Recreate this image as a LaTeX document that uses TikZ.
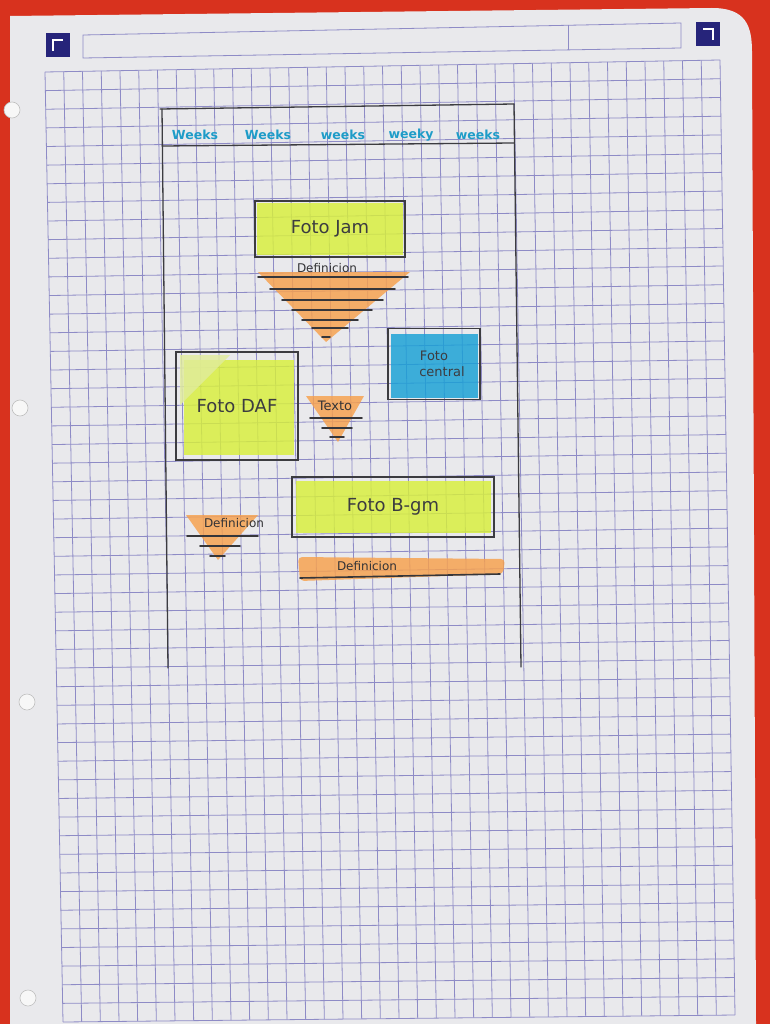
\documentclass[tikz,border=0pt]{standalone}
\usepackage{fontspec}
\setsansfont{DejaVu Sans}
\definecolor{binder}{HTML}{D8321E}
\definecolor{paper}{HTML}{E9E9EC}
\definecolor{gridc}{HTML}{8E8BC6}
\definecolor{navy}{HTML}{26247A}
\definecolor{pencil}{HTML}{3C3C40}
\definecolor{lime}{HTML}{D8F03A}
\definecolor{orng}{HTML}{F7A04C}
\definecolor{cyanink}{HTML}{1E9CC8}
\definecolor{skyfill}{HTML}{16A0D6}
\begin{document}
\begin{tikzpicture}[x=1pt,y=-1pt,
  gridline/.style={gridc,line width=0.8pt},
  pen/.style={pencil,line width=1.3pt,line cap=round},
  inkline/.style={pencil!90!black,line width=1.6pt,line cap=round},
  marker/.style={opacity=0.82},
  photo/.style={draw=pencil,line width=1.3pt,inner sep=0pt,font=\sffamily\fontsize{18}{18}\selectfont,text=pencil},
  navword/.style={font=\sffamily\bfseries\fontsize{12.5}{12.5}\selectfont,text=cyanink},
  hand/.style={font=\sffamily\fontsize{12}{12}\selectfont,text=pencil!85!black},
  hole/.style={fill=white!94!gray,draw=gray!50,line width=0.6pt}]
\useasboundingbox (0,0) rectangle (770,1024);

% binder background and the sheet
\fill[binder] (0,0) rectangle (770,1024);
\fill[paper] (10,16) -- (712,8) .. controls (746,8) and (752,26) .. (752,52) -- (756,1024) -- (10,1024) -- cycle;

% header strip and corner marks
\draw[gridc,line width=0.8pt] (83,35) -- (681,23) -- (681,48) -- (83,58) -- cycle;
\draw[gridc,line width=0.8pt] (568,25) -- (568,50);
\node[fill=navy,minimum size=24pt,inner sep=0pt] (markL) at (58,45) {};
\node[fill=navy,minimum size=24pt,inner sep=0pt] (markR) at (708,34) {};
\draw[white,line width=2pt] ([shift={(-5,6)}]markL.center) -- ([shift={(-5,-5)}]markL.center) -- ([shift={(5,-5)}]markL.center);
\draw[white,line width=2pt] ([shift={(-5,-5)}]markR.center) -- ([shift={(5,-5)}]markR.center) -- ([shift={(5,6)}]markR.center);

% squared ruling, slightly skewed
\def\TLx{45}\def\TLy{72}\def\TRx{720}\def\TRy{60}
\def\BLx{63}\def\BLy{1022}\def\BRx{735}\def\BRy{1015}
\foreach \i in {0,...,36}{
  \pgfmathsetmacro\u{\i/36}
  \pgfmathsetmacro\xa{(1-\u)*\TLx+\u*\TRx}
  \pgfmathsetmacro\ya{(1-\u)*\TLy+\u*\TRy}
  \pgfmathsetmacro\xb{(1-\u)*\BLx+\u*\BRx}
  \pgfmathsetmacro\yb{(1-\u)*\BLy+\u*\BRy}
  \draw[gridline] (\xa,\ya) -- (\xb,\yb);
}
\foreach \j in {0,...,51}{
  \pgfmathsetmacro\v{\j/51}
  \pgfmathsetmacro\xa{(1-\v)*\TLx+\v*\BLx}
  \pgfmathsetmacro\ya{(1-\v)*\TLy+\v*\BLy}
  \pgfmathsetmacro\xb{(1-\v)*\TRx+\v*\BRx}
  \pgfmathsetmacro\yb{(1-\v)*\TRy+\v*\BRy}
  \draw[gridline] (\xa,\ya) -- (\xb,\yb);
}

% punched holes
\foreach \hx/\hy in {12/110,20/408,27/702,28/998}
  \fill[hole] (\hx,\hy) circle (8);

% page frame of the layout
\draw[pen] (160,109) -- (514,104);
\draw[pen] (162,109) -- (168,668);
\draw[pen] (514,104) -- (521,667);
\draw[pen] (162,146) -- (514,143);

% navigation words
\foreach \k/\nx/\w in {1/195/Weeks,2/268/Weeks,3/343/weeks,4/411/weeky,5/478/weeks}
  \node[navword] (nav\k) at (\nx,135) {\w};

% first photo with its definition list
\fill[lime,marker] (257,203) rectangle (403,255);
\node[photo,minimum width=150pt,minimum height=56pt] (jam) at (330,229) {Foto Jam};
\fill[orng,marker] (258,272) -- (410,272) -- (326,342) -- cycle;
\node[hand] (defJam) at (327,268) {Definicion};
\draw[inkline] (258,277) -- (408,277);
\draw[inkline] (270,289) -- (395,289);
\draw[inkline] (282,300) -- (383,300);
\draw[inkline] (292,310) -- (372,310);
\draw[inkline] (302,320) -- (358,320);
\draw[inkline] (312,328) -- (348,328);
\draw[inkline] (322,337) -- (330,337);

% blue photo
\fill[skyfill,marker] (391,334) rectangle (478,398);
\node[photo,minimum width=92pt,minimum height=71pt,font=\sffamily\fontsize{13}{14}\selectfont,align=center] (central) at (434,364) {Foto\\[2pt]\hspace*{16pt}central};

% square photo
\fill[lime,marker] (184,360) rectangle (294,455);
\fill[lime!45!paper,marker] (180,355) -- (230,355) -- (180,405) -- cycle;
\node[photo,minimum width=122pt,minimum height=108pt] (daf) at (237,406) {Foto DAF};

% small text block
\fill[orng,marker] (306,396) -- (364,396) -- (338,442) -- cycle;
\node[hand,font=\sffamily\fontsize{13}{13}\selectfont] (texto) at (335,406) {Texto};
\draw[inkline] (310,418) -- (362,418);
\draw[inkline] (322,428) -- (352,428);
\draw[inkline] (330,437) -- (344,437);

% wide photo
\fill[lime,marker] (296,481) rectangle (491,533);
\node[photo,minimum width=202pt,minimum height=60pt] (bgm) at (393,507) {Foto B-gm};

% definitions below
\fill[orng,marker] (186,515) -- (258,515) -- (218,560) -- cycle;
\node[hand] (defL) at (234,523) {Definicion};
\draw[inkline] (187,536) -- (258,536);
\draw[inkline] (200,546) -- (240,546);
\draw[inkline] (210,556) -- (225,556);

\fill[orng,marker,rounded corners=4pt] (298,557) -- (505,559) -- (503,574) -- (300,581) -- cycle;
\node[hand] (defB) at (367,566) {Definicion};
\draw[inkline] (300,578) -- (500,574);
\end{tikzpicture}
\end{document}
